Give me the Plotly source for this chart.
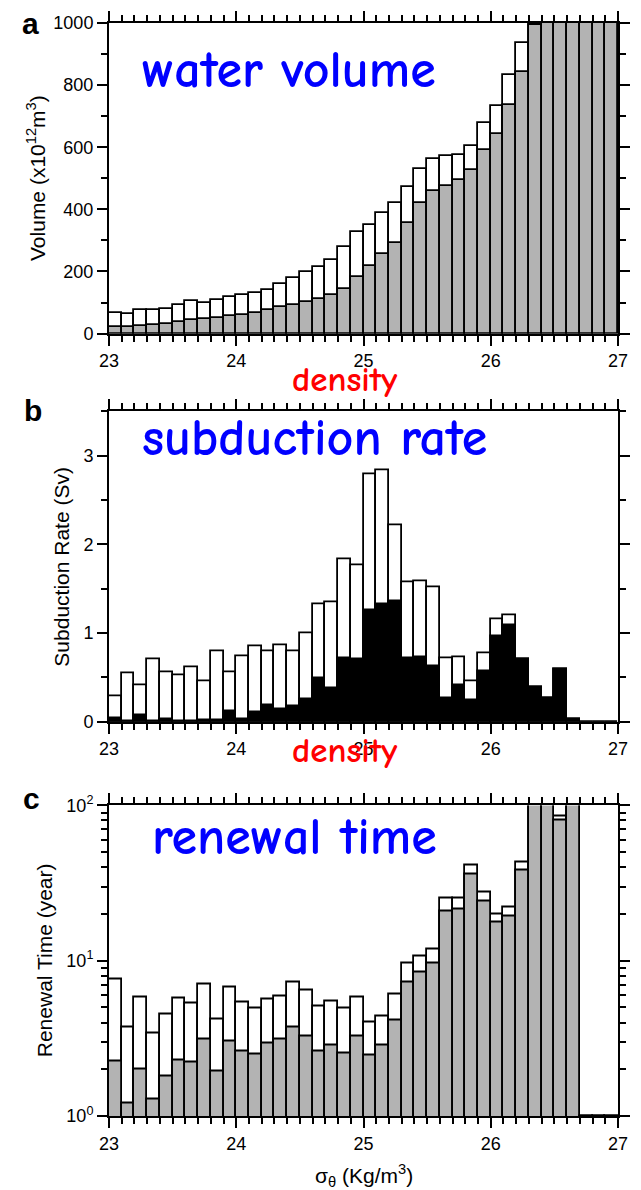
import plotly.graph_objects as go

# ---------------- data ----------------
bin_left = [round(23.0 + 0.1 * i, 2) for i in range(40)]
bin_centers = [round(b + 0.05, 3) for b in bin_left]

# panel a: water volume (x10^12 m^3)
volume_total = [66, 62, 75, 75, 80, 91, 104, 100, 107, 118,
                125, 132, 139, 160, 180, 198, 214, 237, 278, 326,
                350, 388, 422, 473, 529, 561, 572, 574, 604, 679,
                733, 832, 936, 997, 1100, 1150, 1200, 1250, 1300, 1350]
volume_part = [21, 21, 26, 29, 32, 37, 43, 47, 51, 56,
               61, 66, 75, 86, 93, 102, 112, 123, 144, 182,
               219, 255, 291, 357, 420, 460, 476, 494, 527, 590,
               642, 736, 842, 992, 1080, 1130, 1180, 1230, 1280, 1330]

# panel b: subduction rate (Sv)
subd_total = [0.29, 0.55, 0.41, 0.70, 0.56, 0.52, 0.61, 0.46, 0.80, 0.56,
              0.74, 0.85, 0.79, 0.86, 0.79, 1.00, 1.32, 1.35, 1.83, 1.77,
              2.79, 2.83, 2.22, 1.57, 1.58, 1.52, 0.72, 0.73, 0.46, 0.77,
              1.16, 1.20, 0.71, 0.39, 0.27, 0.59, 0.03, 0.0, 0.0, 0.0]
subd_part = [0.04, 0.01, 0.07, 0.01, 0.03, 0.01, 0.01, 0.02, 0.02, 0.12,
             0.03, 0.11, 0.19, 0.14, 0.17, 0.25, 0.49, 0.38, 0.72, 0.71,
             1.26, 1.32, 1.36, 0.72, 0.73, 0.63, 0.27, 0.41, 0.24, 0.57,
             0.96, 1.09, 0.71, 0.39, 0.27, 0.59, 0.03, 0.0, 0.0, 0.0]

# panel c: renewal time (year)
renew_total = [7.6, 3.7, 5.8, 3.4, 4.5, 5.7, 5.3, 7.0, 4.2, 6.7,
               5.4, 4.9, 5.6, 5.9, 7.3, 6.4, 5.1, 5.5, 4.9, 5.8,
               4.0, 4.4, 6.1, 9.6, 10.7, 11.8, 25, 25, 41, 27.7,
               19.9, 22, 43, 150, 200, 85, 300, 1, 1, 1]
renew_part = [2.23, 1.2, 2.0, 1.27, 1.8, 2.29, 2.21, 3.1, 1.94, 3.03,
              2.61, 2.51, 2.92, 3.09, 3.7, 3.27, 2.62, 2.85, 2.52, 3.26,
              2.47, 2.84, 4.12, 7.2, 8.4, 9.6, 20.7, 21.4, 36, 24.2,
              17.6, 19.4, 38.3, 140, 190, 80, 280, 1, 1, 1]

x_major_ticks = [23, 24, 25, 26, 27]
x_minor_ticks = [b for b in bin_left if abs(b - round(b)) > 1e-6]
vol_major_ticks = [0, 200, 400, 600, 800, 1000]
vol_minor_ticks = [100, 300, 500, 700, 900]
subd_major_ticks = [0, 1, 2, 3]
subd_minor_ticks = [0.5, 1.5, 2.5, 3.5]
log_major_ticks = [1, 10, 100]
log_major_text = ["10<sup>0</sup>", "10<sup>1</sup>", "10<sup>2</sup>"]
log_minor_ticks = [2, 3, 4, 5, 6, 7, 8, 9, 20, 30, 40, 50, 60, 70, 80, 90]

# ---------------- geometry ----------------
W, H = 641, 1190
ML, MR, MT, MB = 109, 11, 18, 74
PW = W - ML - MR
PH = H - MT - MB


def px_x(px):
    return (px - ML) / PW


def px_y(py):
    return (H - MB - py) / PH


GRAY = "#b3b3b3"
TICKFONT = dict(family="Liberation Sans, Arial, sans-serif", size=18, color="black")
LW = 1.8

fig = go.Figure()


def add_pair(total, part, part_color, xa, ya, xa_over, ya_over):
    # outlined total bars on the main axes, the filled part on the overlay axes (same scales)
    fig.add_trace(go.Bar(x=bin_centers, y=total, width=0.1, xaxis=xa, yaxis=ya,
                         marker=dict(color="white", line=dict(color="black", width=LW)),
                         opacity=1, showlegend=False))
    fig.add_trace(go.Bar(x=bin_centers, y=part, width=0.1, xaxis=xa_over, yaxis=ya_over,
                         marker=dict(color=part_color, line=dict(color="black", width=LW)),
                         opacity=1, showlegend=False))


add_pair(volume_total, volume_part, GRAY, "x", "y", "x4", "y4")
add_pair(subd_total, subd_part, "black", "x2", "y2", "x5", "y5")
add_pair(renew_total, renew_part, GRAY, "x3", "y3", "x6", "y6")

dom_a = [px_y(330), px_y(18)]
dom_b = [px_y(720), px_y(408)]
dom_c = [px_y(1116), px_y(804)]

axis_base = dict(ticks="outside", tickcolor="black", showline=True, linewidth=2,
                 linecolor="black", mirror="ticks", showgrid=False, zeroline=False,
                 fixedrange=True)
major = dict(axis_base, ticklen=10, tickwidth=2, tickfont=TICKFONT, tickmode="array")
minor = dict(axis_base, ticklen=6, tickwidth=2, showticklabels=False, tickmode="array")

fig.update_layout(
    width=W, height=H,
    margin=dict(l=ML, r=MR, t=MT, b=MB, pad=0),
    paper_bgcolor="white", plot_bgcolor="white",
    barmode="overlay", bargap=0,
    # panel a
    xaxis=dict(major, domain=[0, 1], anchor="y", range=[23, 27], tickvals=x_major_ticks),
    yaxis=dict(major, domain=dom_a, anchor="x", range=[0, 1000], tickvals=vol_major_ticks),
    xaxis4=dict(minor, domain=[0, 1], anchor="y4", overlaying="x", side="bottom",
                range=[23, 27], tickvals=x_minor_ticks),
    yaxis4=dict(minor, domain=dom_a, anchor="x4", overlaying="y", side="left",
                range=[0, 1000], tickvals=vol_minor_ticks),
    # panel b
    xaxis2=dict(major, domain=[0, 1], anchor="y2", range=[23, 27], tickvals=x_major_ticks),
    yaxis2=dict(major, domain=dom_b, anchor="x2", range=[0, 3.5], tickvals=subd_major_ticks),
    xaxis5=dict(minor, domain=[0, 1], anchor="y5", overlaying="x2", side="bottom",
                range=[23, 27], tickvals=x_minor_ticks),
    yaxis5=dict(minor, domain=dom_b, anchor="x5", overlaying="y2", side="left",
                range=[0, 3.5], tickvals=subd_minor_ticks),
    # panel c
    xaxis3=dict(major, domain=[0, 1], anchor="y3", range=[23, 27], tickvals=x_major_ticks),
    yaxis3=dict(major, domain=dom_c, anchor="x3", type="log", range=[0, 2],
                tickvals=log_major_ticks, ticktext=log_major_text),
    xaxis6=dict(minor, domain=[0, 1], anchor="y6", overlaying="x3", side="bottom",
                range=[23, 27], tickvals=x_minor_ticks),
    yaxis6=dict(minor, domain=dom_c, anchor="x6", overlaying="y3", side="left",
                type="log", range=[0, 2], tickvals=log_minor_ticks),
)

ann = []
BLUEFONT = dict(family="Comic Sans MS, Comic Neue, Noto Sans, sans-serif", size=52,
                color="blue", weight=600)
REDFONT = dict(family="Comic Sans MS, Comic Neue, Noto Sans, sans-serif", size=35,
               color="red", weight=600)
TITLEFONT = dict(family="Liberation Sans, Arial, sans-serif", size=21, color="black")
LETTERFONT = dict(family="Liberation Sans, Arial, sans-serif", size=30, color="black")


def add_text(text, px, py, font, xanchor="center", angle=0):
    ann.append(dict(text=text, x=px_x(px), y=px_y(py), xref="paper", yref="paper",
                    xanchor=xanchor, yanchor="middle", showarrow=False, font=font,
                    textangle=angle))


add_text("water volume", 141, 65, BLUEFONT, xanchor="left")
add_text("subduction rate", 141, 435, BLUEFONT, xanchor="left")
add_text("renewal time", 151, 836, BLUEFONT, xanchor="left")
add_text("density", 350, 376, REDFONT)
add_text("density", 350, 749, REDFONT)
add_text("<b>a</b>", 29, 19, LETTERFONT)
add_text("<b>b</b>", 31, 407, LETTERFONT)
add_text("<b>c</b>", 30, 797, LETTERFONT)
add_text("Volume (x10<sup>12</sup>m<sup>3</sup>)", 35, 174, TITLEFONT, angle=-90)
add_text("Subduction Rate (Sv)", 60, 564, TITLEFONT, angle=-90)
add_text("Renewal Time (year)", 43, 960, TITLEFONT, angle=-90)
add_text("σ<sub>θ</sub> (Kg/m<sup>3</sup>)", 370, 1176, TITLEFONT)

fig.update_layout(annotations=ann)
fig.write_html("out.html")
